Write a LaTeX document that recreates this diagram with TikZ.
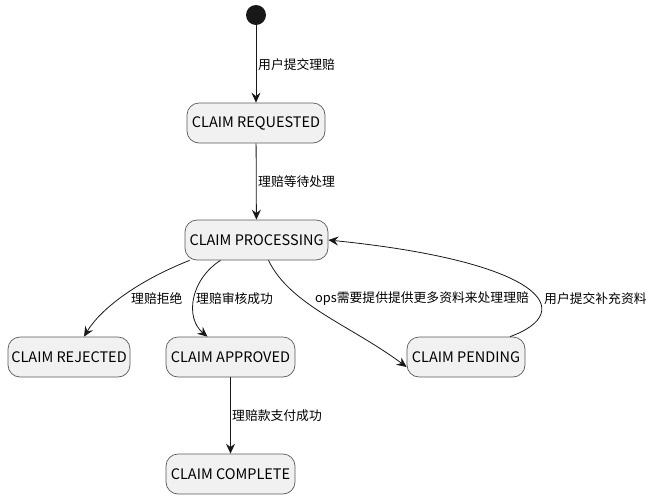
\documentclass[tikz,border=0pt]{standalone}
\usepackage{fontspec}
\setmainfont{Noto Sans CJK SC}
\usetikzlibrary{arrows.meta}
\definecolor{boxfill}{HTML}{F1F1F1}
\definecolor{boxdraw}{HTML}{5A5A5A}
\definecolor{ink}{HTML}{181818}
\tikzset{
  state/.style={draw=boxdraw, fill=boxfill, rounded corners=12pt, line width=0.7pt,
    inner sep=0pt, minimum height=40pt, font=\fontsize{14.5}{16}\selectfont, text=black},
  conn/.style={draw=ink, line width=0.8pt, -{Stealth[length=10pt,width=9pt,inset=3.5pt]}},
  lbl/.style={font=\fontsize{12.8}{14}\selectfont, text=black, inner sep=0pt, anchor=west}
}
\begin{document}
\begin{tikzpicture}[x=1pt,y=-1pt]
\useasboundingbox (0,0) rectangle (654,499);
\node[circle, fill=ink, minimum size=20pt, inner sep=0pt] (start) at (256,15) {};
\node[state, minimum width=138pt] (req) at (256,123) {CLAIM REQUESTED};
\node[state, minimum width=143pt] (proc) at (256.5,240) {CLAIM PROCESSING};
\node[state, minimum width=122pt] (rej) at (69,357) {CLAIM REJECTED};
\node[state, minimum width=129pt] (appr) at (230.5,357) {CLAIM APPROVED};
\node[state, minimum width=118pt] (pend) at (466,357) {CLAIM PENDING};
\node[state, minimum width=129pt] (comp) at (230.5,474) {CLAIM COMPLETE};

\draw[conn] (start) -- (req);
\node[lbl] (l1) at (258,65) {用户提交理赔};
\draw[conn] (req) -- (proc);
\node[lbl] (l2) at (258,182) {理赔等待处理};

\draw[conn] ([xshift=5pt]proc.south west) .. controls (135,282) and (100,310) .. ([xshift=15pt]rej.north);
\node[lbl] (l3) at (131,299) {理赔拒绝};

\draw[conn] ([xshift=-36pt]proc.south) .. controls (190,280) and (185,318) .. ([xshift=-23pt]appr.north);
\node[lbl] (l4) at (196,299) {理赔审核成功};

\draw[conn] ([xshift=12pt]proc.south) .. controls (290,305) and (350,325) .. ([yshift=-10pt]pend.west);
\node[lbl] (l5) at (315,299) {ops需要提供提供更多资料来处理理赔};

\draw[conn] ([xshift=44pt]pend.north) .. controls (578,312) and (545,262) .. (proc.east);
\node[lbl] (l6) at (544,299) {用户提交补充资料};

\draw[conn] (appr) -- (comp);
\node[lbl] (l7) at (232,416) {理赔款支付成功};
\end{tikzpicture}
\end{document}
